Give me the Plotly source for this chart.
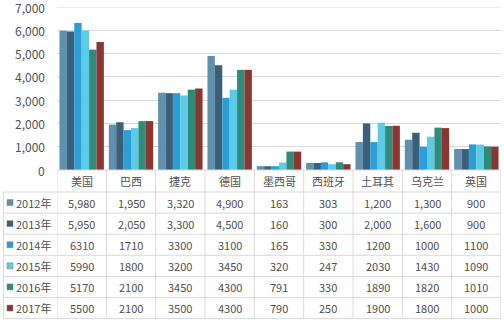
import plotly.graph_objects as go

categories = ["美国", "巴西", "捷克", "德国", "墨西哥", "西班牙", "土耳其", "乌克兰", "英国"]
years = ["2012年", "2013年", "2014年", "2015年", "2016年", "2017年"]
v2012 = [5980, 1950, 3320, 4900, 163, 303, 1200, 1300, 900]
v2013 = [5950, 2050, 3300, 4500, 160, 300, 2000, 1600, 900]
v2014 = [6310, 1710, 3300, 3100, 165, 330, 1200, 1000, 1100]
v2015 = [5990, 1800, 3200, 3450, 320, 247, 2030, 1430, 1090]
v2016 = [5170, 2100, 3450, 4300, 791, 330, 1890, 1820, 1010]
v2017 = [5500, 2100, 3500, 4300, 790, 250, 1900, 1800, 1000]
series = [v2012, v2013, v2014, v2015, v2016, v2017]
# table text formats as shown in the original data table
comma_rows = [True, True, False, False, False, False]
y_ticks = [0, 1000, 2000, 3000, 4000, 5000, 6000, 7000]
colors = ["#5f90ae", "#3b5f79", "#2b9fd5", "#5ccbe6", "#2f8c7b", "#8b3631"]

W, H = 504, 323
ML, MR, MT, MB = 3, 3, 7, 3
PW, PH = W - ML - MR, H - MT - MB


def X(px):
    return (px - ML) / PW


def Y(py):
    return (H - MB - py) / PH


plot_left, plot_right, plot_bottom, plot_top = 57, 501, 170, 7
row_h = 21.1
header_bottom = 192
table_bottom = header_bottom + row_h * 6

fig = go.Figure()
for yr, vals, c in zip(years, series, colors):
    fig.add_trace(go.Bar(x=categories, y=vals, name=yr, marker=dict(color=c, line=dict(width=0))))

font = dict(family="Microsoft YaHei, Noto Sans CJK SC, sans-serif", size=11, color="#505050")
shapes = []
annotations = []
grid = "#d9d9d9"

# category header and vertical table lines (x in axis coords)
n = len(categories)
for i in range(n + 1):
    shapes.append(dict(type="line", xref="x", yref="paper", x0=i - 0.5, x1=i - 0.5,
                       y0=Y(plot_bottom), y1=Y(table_bottom), line=dict(color=grid, width=1)))
for i, cat in enumerate(categories):
    annotations.append(dict(xref="x", yref="paper", x=i, y=Y((plot_bottom + header_bottom) / 2),
                            text=cat, showarrow=False, font=font, xanchor="center", yanchor="middle"))

# horizontal table lines
shapes.append(dict(type="line", xref="paper", yref="paper", x0=X(plot_left), x1=X(plot_right),
                   y0=Y(plot_bottom), y1=Y(plot_bottom), line=dict(color=grid, width=1)))
for r in range(7):
    yy = header_bottom + row_h * r
    shapes.append(dict(type="line", xref="paper", yref="paper", x0=X(3), x1=X(plot_right),
                       y0=Y(yy), y1=Y(yy), line=dict(color=grid, width=1)))
shapes.append(dict(type="line", xref="paper", yref="paper", x0=X(3.5), x1=X(3.5),
                   y0=Y(header_bottom), y1=Y(table_bottom), line=dict(color=grid, width=1)))

for r, (yr, vals, c, comma) in enumerate(zip(years, series, colors, comma_rows)):
    yc = header_bottom + row_h * (r + 0.5)
    shapes.append(dict(type="rect", xref="paper", yref="paper", x0=X(7), x1=X(13),
                       y0=Y(yc - 3), y1=Y(yc + 3), fillcolor=c, line=dict(color="#7f7f7f", width=0.5)))
    annotations.append(dict(xref="paper", yref="paper", x=X(14), y=Y(yc), text=yr, showarrow=False,
                            font=font, xanchor="left", yanchor="middle"))
    for i, v in enumerate(vals):
        txt = f"{v:,}" if comma else str(v)
        annotations.append(dict(xref="x", yref="paper", x=i, y=Y(yc), text=txt, showarrow=False,
                                font=font, xanchor="center", yanchor="middle"))

# top gridline (kept explicit so it is never culled at the range edge)
shapes.append(dict(type="line", xref="paper", yref="y", x0=X(plot_left), x1=X(plot_right),
                   y0=y_ticks[-1], y1=y_ticks[-1], line=dict(color=grid, width=1)))

# y-axis tick labels drawn as annotations so the top one is never culled
for t in y_ticks:
    annotations.append(dict(xref="paper", yref="y", x=X(47), y=t, text=f"{t:,}", showarrow=False,
                            font=dict(family=font["family"], size=12, color="#505050"),
                            xanchor="right", yanchor="middle"))

fig.update_layout(
    width=W, height=H,
    margin=dict(l=ML, r=MR, t=MT, b=MB),
    paper_bgcolor="white", plot_bgcolor="white",
    barmode="group", bargap=0.1, bargroupgap=0.0,
    showlegend=False,
    font=font,
    xaxis=dict(domain=[X(plot_left), X(plot_right)], range=[-0.5, n - 0.5], showticklabels=False,
               showgrid=False, zeroline=False, showline=False, ticks="", fixedrange=True),
    yaxis=dict(domain=[Y(plot_bottom), Y(plot_top)], range=[0, 7000], tickvals=y_ticks,
               showticklabels=False, showgrid=True, gridcolor=grid, gridwidth=1,
               zeroline=False, showline=False, ticks="", automargin=False, fixedrange=True),
    shapes=shapes,
    annotations=annotations,
)

fig.write_html("out.html")
